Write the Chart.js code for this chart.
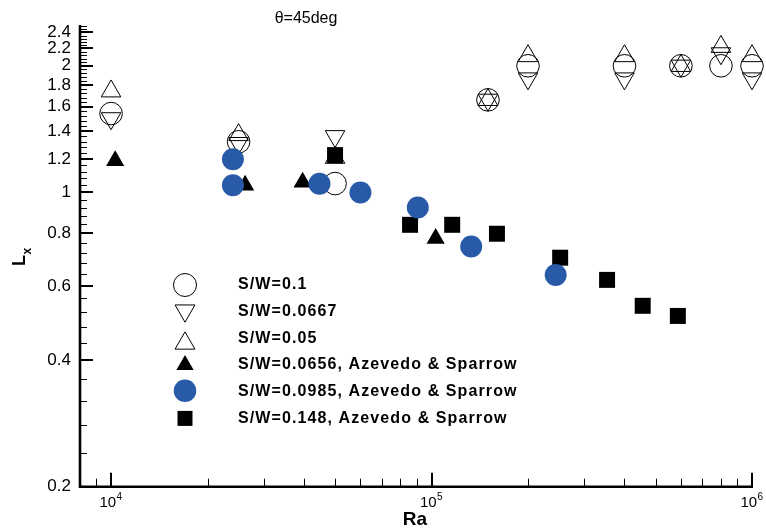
<!DOCTYPE html>
<html><head><meta charset="utf-8">
<script src="https://cdn.jsdelivr.net/npm/chart.js@4/dist/chart.umd.min.js"></script>
<style>html,body{margin:0;padding:0;background:#fff}#wrap{width:766px;height:530px}</style>
</head><body><div id="wrap"><canvas id="c" width="766" height="530"></canvas></div>
<script>
// ---- data ----
const raOpen   = [1e4, 2.5e4, 5e4, 1.5e5, 2e5, 4e5, 6e5, 8e5, 1e6];
const lxSW0100 = [1.54, 1.32, 1.05, 1.66, 2.0, 2.0, 2.0, 2.0, 2.0];
const lxSW0667 = [1.50, 1.31, 1.36, 1.66, 1.865, 1.865, 2.0, 2.14, 1.865];
const lxSW0050 = [1.74, 1.37, 1.21, 1.66, 2.11, 2.11, 2.0, 2.22, 2.11];
const raAS0656 = [1.03e4, 2.62e4, 3.96e4, 1.03e5];
const lxAS0656 = [1.19, 1.04, 1.058, 0.777];
const raAS0985 = [2.4e4, 2.4e4, 4.47e4, 6.0e4, 9.06e4, 1.33e5, 2.44e5];
const lxAS0985 = [1.2, 1.04, 1.049, 1.0, 0.921, 0.744, 0.637];
const raAS148  = [5.0e4, 8.57e4, 1.16e5, 1.6e5, 2.52e5, 3.53e5, 4.56e5, 5.87e5];
const lxAS148  = [1.227, 0.838, 0.838, 0.798, 0.70, 0.62, 0.538, 0.509];
const seriesLabels = ['S/W=0.1', 'S/W=0.0667', 'S/W=0.05',
  'S/W=0.0656, Azevedo & Sparrow', 'S/W=0.0985, Azevedo & Sparrow', 'S/W=0.148, Azevedo & Sparrow'];
const titleText = 'θ=45deg';
const xTitle = 'Ra';
const xMajorTicks = [1e4, 1e5, 1e6];
const xTickBase = ['10', '10', '10'];
const xTickExp = ['4', '5', '6'];
const xMinorTicks = [9e3, 2e4, 3e4, 4e4, 5e4, 6e4, 7e4, 8e4, 9e4, 2e5, 3e5, 4e5, 5e5, 6e5, 7e5, 8e5, 9e5];
const yMajorTicks = [0.2, 0.4, 0.6, 0.8, 1, 1.2, 1.4, 1.6, 1.8, 2, 2.2, 2.4];
const yTickLabels = ['0.2', '0.4', '0.6', '0.8', '1', '1.2', '1.4', '1.6', '1.8', '2', '2.2', '2.4'];
const yMinorTicks = [];
for (let k = 5; k <= 62; k++) { if (k % 5 !== 0) yMinorTicks.push(k * 0.04); }

const BLUE = 'rgb(40,90,168)';
const FONT = "'Liberation Sans', Arial, Helvetica, sans-serif";
const pts = (xs, ys) => xs.map((x, i) => ({ x: x, y: ys[i] }));

// legend marker specs (same order as seriesLabels)
const legendMarks = [
  { style: 'circle', r: 11.5, fill: null, dy: 1 },
  { style: 'triangle', rot: 180, r: 11.5, fill: null, dy: 0 },
  { style: 'triangle', rot: 0, r: 11.5, fill: null, dy: 6 },
  { style: 'triangle', rot: 0, r: 10, fill: '#000', dy: 1 },
  { style: 'circle', r: 11.3, fill: BLUE, dy: 0 },
  { style: 'rect', r: 7.5, fill: '#000', dy: 1 }
];

function marker(ctx, m, x, y) {
  ctx.beginPath();
  if (m.style === 'circle') {
    ctx.arc(x, y, m.r, 0, Math.PI * 2);
  } else if (m.style === 'rect') {
    ctx.rect(x - m.r, y - m.r, 2 * m.r, 2 * m.r);
  } else {
    let a = (m.rot || 0) * Math.PI / 180;
    for (let i = 0; i < 3; i++) {
      const px = x + Math.sin(a) * m.r, py = y - Math.cos(a) * m.r;
      if (i === 0) ctx.moveTo(px, py); else ctx.lineTo(px, py);
      a += 2 * Math.PI / 3;
    }
    ctx.closePath();
  }
  if (m.fill) { ctx.fillStyle = m.fill; ctx.fill(); }
  else { ctx.strokeStyle = '#000'; ctx.lineWidth = 1; ctx.stroke(); }
}

const decor = {
  id: 'decor',
  afterDraw(chart) {
    const { ctx, chartArea: a, scales: { x, y } } = chart;
    ctx.save();
    ctx.strokeStyle = '#000';
    // minor ticks
    ctx.lineWidth = 1;
    ctx.beginPath();
    yMinorTicks.forEach(v => { const p = Math.round(y.getPixelForValue(v)) + 0.5; ctx.moveTo(a.left, p); ctx.lineTo(a.left + 7, p); });
    xMinorTicks.forEach(v => { const p = Math.round(x.getPixelForValue(v)) + 0.5; ctx.moveTo(p, a.bottom); ctx.lineTo(p, a.bottom - 8); });
    ctx.stroke();
    // major ticks
    ctx.lineWidth = 2;
    ctx.beginPath();
    yMajorTicks.forEach(v => { const p = Math.round(y.getPixelForValue(v)); ctx.moveTo(a.left, p); ctx.lineTo(a.left + 13, p); });
    xMajorTicks.forEach(v => { const p = Math.round(x.getPixelForValue(v)); ctx.moveTo(p, a.bottom); ctx.lineTo(p, a.bottom - 14); });
    ctx.stroke();
    // axis lines
    ctx.lineWidth = 2.6;
    ctx.beginPath();
    ctx.moveTo(a.left, a.top); ctx.lineTo(a.left, a.bottom); ctx.lineTo(a.right + 1, a.bottom);
    ctx.stroke();

    ctx.fillStyle = '#000';
    // x tick labels with superscript exponent, placed by the x scale
    ctx.textBaseline = 'alphabetic';
    xMajorTicks.forEach((v, i) => {
      const p = x.getPixelForValue(v);
      ctx.font = '15px ' + FONT;
      const wb = ctx.measureText(xTickBase[i]).width;
      ctx.font = '10px ' + FONT;
      const we = ctx.measureText(xTickExp[i]).width;
      const x0 = p - (wb + we) / 2 - 0.5;
      ctx.textAlign = 'left';
      ctx.font = '15px ' + FONT;
      ctx.fillText(xTickBase[i], x0, 507);
      ctx.font = '10px ' + FONT;
      ctx.fillText(xTickExp[i], x0 + wb + 0.5, 500);
    });
    // title
    ctx.font = '16px ' + FONT;
    ctx.textAlign = 'center';
    ctx.fillText(titleText, 306, 23);
    // x title
    ctx.font = 'bold 19px ' + FONT;
    ctx.fillText(xTitle, 415, 525);
    // y title L_x (rotated)
    ctx.save();
    ctx.translate(25, 266);
    ctx.rotate(-Math.PI / 2);
    ctx.textAlign = 'left';
    ctx.font = 'bold 18px ' + FONT;
    ctx.fillText('L', 0, 0);
    const wL = ctx.measureText('L').width;
    ctx.font = 'bold 12px ' + FONT;
    ctx.fillText('x', wL + 0.5, 6);
    ctx.restore();

    // legend
    const rows = [284, 310.7, 337.4, 364, 390.7, 417.4];
    ctx.font = 'bold 16px ' + FONT;
    ctx.textAlign = 'left'; ctx.textBaseline = 'middle';
    try { ctx.letterSpacing = '1.1px'; } catch (e) {}
    seriesLabels.forEach((t, i) => {
      marker(ctx, legendMarks[i], 185, rows[i] + legendMarks[i].dy);
      ctx.fillStyle = '#000';
      ctx.fillText(t, 238, rows[i] + 1);
    });
    ctx.restore();
  }
};

const openDs = (label, data, rot) => ({
  label, data, pointStyle: rot === null ? 'circle' : 'triangle', pointRotation: rot || 0,
  pointRadius: 11.3, backgroundColor: 'rgba(0,0,0,0)', borderColor: '#000', pointBorderWidth: 1, borderWidth: 1,
  clip: false
});

new Chart(document.getElementById('c'), {
  type: 'scatter',
  data: {
    datasets: [
      { label: seriesLabels[4], data: pts(raAS0985, lxAS0985), pointStyle: 'circle', pointRadius: 11,
        backgroundColor: BLUE, borderColor: BLUE, borderWidth: 0, clip: false },
      { label: seriesLabels[5], data: pts(raAS148, lxAS148), pointStyle: 'rect', pointRadius: 11.3,
        backgroundColor: '#000', borderColor: '#000', borderWidth: 0, clip: false },
      { label: seriesLabels[3], data: pts(raAS0656, lxAS0656), pointStyle: 'triangle', pointRadius: 10.5,
        backgroundColor: '#000', borderColor: '#000', borderWidth: 0, clip: false },
      openDs(seriesLabels[0], pts(raOpen, lxSW0100), null),
      openDs(seriesLabels[1], pts(raOpen, lxSW0667), 180),
      openDs(seriesLabels[2], pts(raOpen, lxSW0050), 0)
    ]
  },
  options: {
    responsive: false, animation: false, events: [],
    layout: { padding: { top: 25, right: 14, left: 0, bottom: 0 } },
    plugins: { legend: { display: false }, title: { display: false }, tooltip: { enabled: false } },
    scales: {
      x: {
        type: 'logarithmic', position: 'bottom', min: 8000, max: 1e6, bounds: 'data',
        grid: { display: false, drawTicks: false }, border: { display: false },
        ticks: { display: false, autoSkip: false },
        afterBuildTicks: s => { s.ticks = xMajorTicks.map(v => ({ value: v })); },
        afterFit: s => { s.height = 43.3; s.paddingLeft = 0; s.paddingRight = 0; }
      },
      y: {
        type: 'logarithmic', position: 'left', min: 0.2, max: 2.5, bounds: 'data',
        grid: { display: false, drawTicks: false }, border: { display: false },
        ticks: { color: '#000', font: { family: FONT, size: 17 }, padding: 9, autoSkip: false,
          callback: (v, i) => yTickLabels[i] },
        afterBuildTicks: s => { s.ticks = yMajorTicks.map(v => ({ value: v })); },
        afterFit: s => { s.width = 80; s.paddingTop = 0; s.paddingBottom = 0; }
      }
    }
  },
  plugins: [decor]
});
</script>
</body></html>
